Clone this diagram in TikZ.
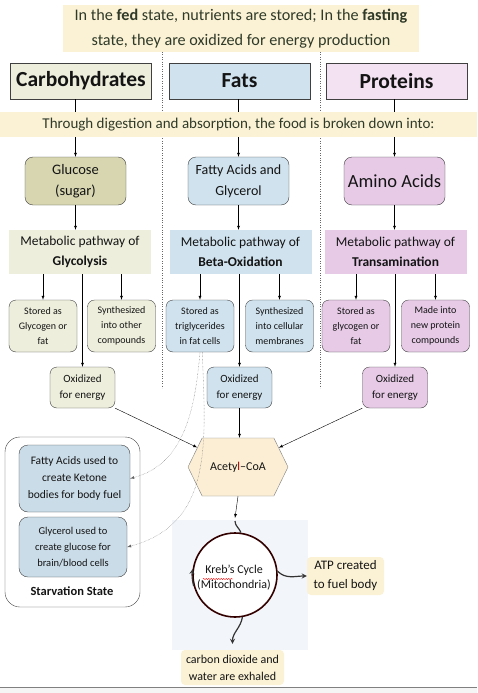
\documentclass[tikz,border=0pt]{standalone}
\usepackage{fontspec}
\setmainfont{Carlito}
\usetikzlibrary{shapes.symbols,decorations.pathmorphing}

\definecolor{bannerY}{HTML}{FBF2D5}
\definecolor{bannerT}{HTML}{2F3A28}
\definecolor{carbL}{HTML}{EEEEDD}
\definecolor{carbD}{HTML}{D7D6B1}
\definecolor{fatL}{HTML}{CFE2EE}
\definecolor{starvB}{HTML}{CADCE8}
\definecolor{protL}{HTML}{F2E2F2}
\definecolor{protD}{HTML}{E6CAE6}
\definecolor{edge}{HTML}{404040}
\definecolor{acetylY}{HTML}{FBEED4}
\definecolor{scanB}{HTML}{F2F5F9}
\newcommand\fsz[2]{\fontsize{#1}{#2}\selectfont}

\begin{document}
\begin{tikzpicture}[x=1pt,y=1pt,>=latex,
    every node/.style={text=black!92, align=center, inner sep=0},
    catbox/.style={draw=edge, minimum width=141, minimum height=36, font=\bfseries\fsz{21.5}{24}},
    foodbox/.style={draw=edge, rounded corners=8, minimum width=101, minimum height=48, font=\fsz{14}{21}},
    pathbox/.style={minimum width=142, minimum height=44, font=\fsz{13.5}{20}},
    fatebox/.style={draw=edge, rounded corners=7, minimum width=68, minimum height=52, font=\fsz{10}{15}},
    oxidbox/.style={draw=edge, rounded corners=7, minimum width=65, minimum height=41, font=\fsz{11}{16}},
    starvbox/.style={draw=edge, fill=starvB, rounded corners=9},
    note/.style={fill=bannerY, rounded corners=4},
    sep/.style={dotted, black!60}]
    \useasboundingbox (0,0) rectangle (477,-693);
    % faint scan behind the cycle, window edge
    \fill[scanB] (172,-520) rectangle (308,-650);
    \fill[black!4] (0,-687) rectangle (477,-693);
    \draw[gray] (0,-687) -- (477,-687);

    \node[catbox, fill=carbL] (carbs) at (81,-81) {Carbohydrates};
    \node[catbox, fill=fatL] (fats) at (239.5,-81) {Fats};
    \node[catbox, fill=protL] (proteins) at (396.5,-81) {Proteins};

    \node[foodbox, fill=carbD, font=\fsz{14.5}{21}] (glucose) at (75.5,-181) {Glucose\\(sugar)};
    \node[foodbox, fill=fatL] (fattyacids) at (238.5,-181) {Fatty Acids and\\Glycerol};
    \node[foodbox, fill=protD, font=\fsz{18.5}{21}] (aminoacids) at (394.5,-181) {Amino Acids};

    \node[pathbox, fill=carbL] (glycolysis) at (80,-252) {Metabolic pathway of\\\textbf{Glycolysis}};
    \node[pathbox, fill=fatL] (betaox) at (240.5,-252) {Metabolic pathway of\\\textbf{Beta-Oxidation}};
    \node[pathbox, fill=protD] (transam) at (395.5,-252) {Metabolic pathway of\\\textbf{Transamination}};

    \node[fatebox, fill=carbL] (glycogen) at (43,-326) {Stored as\\Glycogen or\\fat};
    \node[fatebox, fill=carbL] (synthC) at (121.5,-326) {Synthesized\\into other\\compounds};
    \node[oxidbox, fill=carbL] (oxidC) at (82.5,-387.5) {Oxidized\\for energy};
    \node[fatebox, fill=fatL] (triglyc) at (200,-326) {Stored as\\triglycerides\\in fat cells};
    \node[fatebox, fill=fatL] (membranes) at (279.5,-326) {Synthesized\\into cellular\\membranes};
    \node[oxidbox, fill=fatL] (oxidF) at (239.5,-387.5) {Oxidized\\for energy};
    \node[fatebox, fill=protD] (storedP) at (356,-326) {Stored as\\glycogen or\\fat};
    \node[fatebox, fill=protD] (newprot) at (435.5,-326) {Made into\\new protein\\compounds};
    \node[oxidbox, fill=protD] (oxidP) at (395,-387.5) {Oxidized\\for energy};

    \node[signal, signal to=west and east, signal pointer angle=128, draw=black!50,
          fill=acetylY, minimum width=100, minimum height=58, font=\fsz{12}{14}]
          (acetyl) at (238,-467) {Acety{\color{red!60!black}l}–CoA};

    % starvation state
    \node[draw=edge, rounded corners=15, minimum width=135, minimum height=170] (starvation) at (72.5,-522) {};
    \node[starvbox, minimum width=111, minimum height=67, font=\fsz{11.5}{17}] (ketone)
          at (74.5,-478.5) {Fatty Acids used to\\create Ketone\\bodies for body fuel};
    \node[starvbox, minimum width=108, minimum height=60, font=\fsz{10.5}{16}] (glycerol)
          at (73,-547) {Glycerol used to\\create glucose for\\brain/blood cells};
    \node[font=\bfseries\fsz{12.5}{14}] (starvlabel) at (72,-591) {Starvation State};

    % cycle
    \node[circle, draw=black!80!red, line width=1.6, fill=white, minimum size=84,
          font=\fsz{12}{15}] (krebs) at (235,-575) {};
    \node[font=\fsz{12}{15}] (krebstext) at (234,-577.5) {Kreb’s Cycle\\(Mitochondria)};
    \node[note, minimum width=77, minimum height=38, font=\fsz{13}{19}] (atp)
          at (345.5,-576) {ATP created\\to fuel body};
    \node[note, minimum width=103, minimum height=35, font=\fsz{12}{17}] (exhaled)
          at (232.5,-667.5) {carbon dioxide and\\water are exhaled};
    \coordinate (cyclein) at (235,-518);

    % separators
    \draw[sep] (162,-52) -- (162,-388);
    \draw[sep] (320,-52) -- (320,-388);

    \draw[->] (carbs.south -| glucose) -- (glucose);
    \draw[->] (fats.south -| fattyacids) -- (fattyacids);
    \draw[->] (proteins.south -| aminoacids) -- (aminoacids);
    \draw[->] (glucose) -- (glucose |- glycolysis.north);
    \draw[->] (fattyacids) -- (fattyacids |- betaox.north);
    \draw[->] (aminoacids) -- (aminoacids |- transam.north);
    \foreach \from/\to in {glycolysis/glycogen, glycolysis/synthC, glycolysis/oxidC,
                           betaox/triglyc, betaox/membranes, betaox/oxidF,
                           transam/storedP, transam/newprot, transam/oxidP}
        \draw[->] (\from.south -| \to) -- (\to);

    \draw[->] (oxidC.south east) -- (acetyl);
    \draw[->] (oxidF.south) -- (oxidF.south |- acetyl.north);
    \draw[->] (oxidP.south west) -- (acetyl);

    \draw[->, densely dotted, black!60] (triglyc.south) to[out=-95, in=15] (ketone.east);
    \draw[->, densely dotted, black!60] (triglyc.-85) to[out=-88, in=15, looseness=1.1] (glycerol.east);

    \draw[->] (acetyl.south) -- (cyclein);
    \draw[line width=1.2, black!80] ([yshift=-3]cyclein) to[out=-90, in=110] (krebs.82);
    \draw[-stealth, line width=1.2, black!80] (krebs.5) to[out=-45, in=180] (atp.west);
    \draw[-stealth, line width=1.2, black!80] (krebs.-80) to[out=-100, in=90] ([yshift=6]exhaled.north);
    \draw[-stealth, line width=1.2, black!80] (krebs.195) arc[start angle=195, end angle=172, radius=42.8];
    \draw[red, decorate, decoration={snake, amplitude=0.6, segment length=2.5}]
        ([xshift=-31,yshift=-1.5]krebstext.center) -- ([xshift=-1,yshift=-1.5]krebstext.center);

    % banners
    \node[fill=bannerY, minimum width=356, minimum height=47, font=\fsz{16.2}{25}, text=bannerT]
        (fedstate) at (241,-28.5) {In the \textbf{fed} state, nutrients are stored; In the \textbf{fasting}\\state, they are oxidized for energy production};
    \node[fill=bannerY, minimum width=477, minimum height=25, font=\fsz{15}{16}, text=bannerT]
        (digestion) at (238.5,-124.5) {Through digestion and absorption, the food is broken down into:};
\end{tikzpicture}
\end{document}
